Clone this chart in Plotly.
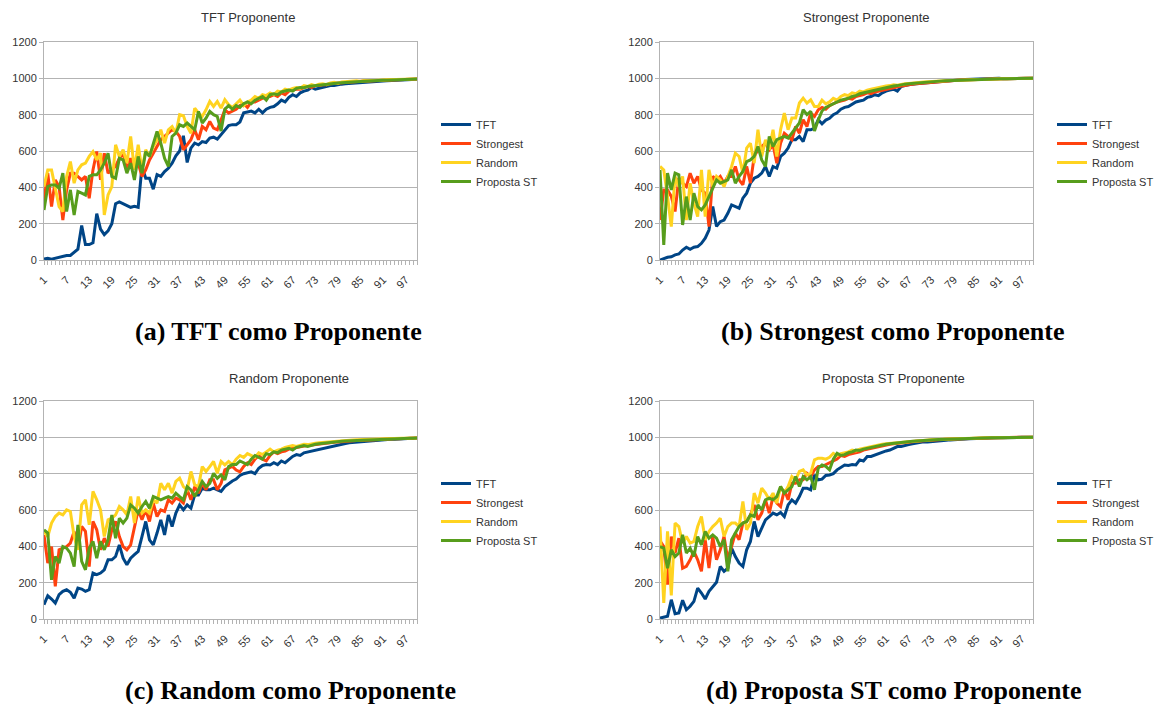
import plotly.graph_objects as go

# ---------------- data ----------------
ROUNDS = list(range(1, 101))
XTICK_LABELS = [1, 7, 13, 19, 25, 31, 37, 43, 49, 55, 61, 67, 73, 79, 85, 91, 97]
SERIES_NAMES = ["TFT", "Strongest", "Random", "Proposta ST"]
PANEL_TITLES = ["TFT Proponente", "Strongest Proponente", "Random Proponente", "Proposta ST Proponente"]
CAPTIONS = ["(a) TFT como Proponente", "(b) Strongest como Proponente",
            "(c) Random como Proponente", "(d) Proposta ST como Proponente"]

# (a) TFT Proponente
a_tft = [5, 10, 5, 10, 15, 20, 25, 25, 45, 60,
         190, 85, 85, 95, 255, 170, 140, 160, 200, 310,
         320, 310, 300, 290, 295, 290, 515, 450, 450, 390,
         470, 460, 487, 505, 533, 573, 600, 684, 537, 616,
         643, 634, 652, 647, 671, 676, 665, 690, 720, 740,
         745, 745, 760, 810, 815, 820, 810, 830, 810, 830,
         840, 845, 860, 880, 870, 895, 910, 900, 920, 930,
         935, 950, 940, 945, 950, 955, 960, 960, 965, 968,
         970, 972, 974, 976, 978, 980, 981, 982, 984, 985,
         986, 987, 988, 989, 990, 991, 992, 993, 994, 995]
a_str = [330, 478, 294, 441, 404, 220, 386, 478, 478, 460,
         441, 460, 340, 496, 597, 441, 588, 478, 496, 515,
         560, 588, 496, 560, 515, 533, 460, 496, 551, 588,
         625, 662, 680, 698, 717, 708, 680, 607, 634, 662,
         717, 662, 735, 717, 763, 726, 717, 772, 827, 809,
         820, 830, 850, 860, 840, 870, 870, 880, 890, 900,
         900, 910, 900, 920, 910, 930, 935, 940, 940, 950,
         955, 950, 960, 960, 965, 965, 970, 972, 970, 975,
         978, 978, 980, 982, 983, 985, 985, 986, 988, 988,
         990, 990, 991, 992, 992, 993, 994, 994, 995, 996]
a_rnd = [404, 496, 496, 386, 294, 267, 460, 542, 423, 496,
         524, 533, 570, 597, 551, 588, 248, 358, 404, 634,
         570, 607, 533, 680, 496, 634, 496, 607, 570, 625,
         662, 717, 643, 717, 735, 698, 800, 794, 735, 698,
         836, 809, 790, 827, 873, 845, 873, 836, 882, 855,
         840, 860, 880, 850, 870, 880, 900, 890, 910, 905,
         920, 910, 930, 925, 940, 935, 945, 950, 945, 960,
         955, 965, 960, 968, 970, 965, 975, 978, 972, 980,
         982, 980, 984, 986, 983, 988, 987, 989, 990, 989,
         991, 992, 993, 992, 994, 994, 995, 995, 996, 996]
a_pst = [275, 404, 413, 413, 395, 478, 267, 386, 248, 377,
         368, 358, 460, 469, 469, 496, 533, 588, 460, 450,
         560, 551, 478, 533, 441, 570, 478, 597, 570, 643,
         708, 643, 560, 515, 680, 698, 744, 735, 754, 735,
         717, 818, 754, 781, 818, 800, 790, 710, 830, 850,
         830, 850, 840, 860, 870, 860, 880, 890, 900, 880,
         910, 915, 910, 925, 930, 935, 930, 945, 950, 948,
         955, 958, 960, 962, 965, 968, 970, 972, 974, 976,
         978, 979, 980, 982, 983, 984, 986, 987, 988, 989,
         990, 990, 991, 992, 993, 993, 994, 995, 995, 996]

# (b) Strongest Proponente
b_tft = [0, 9, 15, 18, 28, 33, 55, 70, 59, 70,
         74, 92, 120, 165, 295, 185, 211, 220, 257, 303,
         294, 285, 340, 368, 423, 450, 460, 478, 515, 460,
         515, 505, 570, 588, 616, 662, 662, 680, 652, 717,
         717, 726, 772, 750, 770, 780, 800, 810, 830, 840,
         845, 860, 870, 875, 880, 895, 900, 910, 905, 920,
         930, 935, 940, 930, 955, 960, 965, 968, 970, 972,
         975, 978, 980, 982, 984, 986, 988, 989, 990, 991,
         992, 993, 994, 994, 995, 996, 996, 997, 997, 998,
         1000, 998, 998, 999, 999, 999, 999, 1000, 1000, 1000]
b_str = [220, 386, 386, 350, 267, 450, 423, 404, 478, 423,
         460, 386, 368, 184, 460, 441, 460, 423, 460, 460,
         515, 441, 414, 515, 423, 570, 607, 625, 643, 607,
         634, 533, 643, 698, 680, 662, 735, 698, 772, 735,
         809, 790, 827, 840, 830, 850, 860, 870, 875, 880,
         890, 885, 900, 905, 910, 920, 915, 925, 930, 935,
         940, 945, 950, 955, 958, 960, 965, 968, 970, 972,
         975, 978, 980, 982, 984, 985, 986, 988, 989, 990,
         991, 992, 993, 994, 994, 995, 996, 996, 997, 997,
         998, 998, 998, 999, 999, 999, 1000, 1000, 1000, 1000]
b_rnd = [515, 496, 350, 184, 460, 404, 460, 220, 423, 312,
         239, 496, 239, 496, 404, 460, 441, 404, 460, 515,
         588, 570, 478, 616, 643, 533, 717, 570, 662, 607,
         717, 570, 717, 809, 717, 781, 781, 864, 891, 864,
         882, 845, 845, 880, 860, 870, 890, 880, 900, 910,
         905, 920, 915, 930, 925, 935, 940, 945, 950, 955,
         958, 960, 965, 962, 968, 970, 972, 975, 976, 978,
         980, 981, 983, 984, 985, 986, 987, 988, 989, 990,
         991, 992, 992, 993, 994, 994, 995, 996, 996, 997,
         997, 998, 998, 998, 999, 999, 999, 1000, 1000, 1000]
b_pst = [496, 83, 478, 386, 478, 469, 193, 349, 220, 368,
         294, 276, 303, 349, 404, 441, 423, 432, 441, 496,
         423, 460, 487, 542, 551, 570, 625, 551, 515, 680,
         625, 662, 671, 680, 671, 698, 726, 754, 827, 800,
         818, 710, 770, 820, 840, 850, 860, 870, 880, 885,
         890, 900, 905, 915, 920, 925, 930, 935, 940, 945,
         950, 955, 958, 960, 965, 968, 970, 972, 975, 978,
         980, 981, 983, 984, 985, 986, 987, 988, 989, 990,
         991, 992, 992, 993, 994, 994, 995, 996, 996, 997,
         997, 998, 998, 998, 999, 999, 999, 1000, 1000, 1000]

# (c) Random Proponente
c_tft = [79, 128, 110, 88, 134, 152, 161, 147, 115, 170,
         165, 152, 161, 253, 244, 253, 271, 326, 326, 344,
         408, 335, 299, 335, 354, 372, 454, 537, 436, 408,
         473, 546, 463, 573, 509, 583, 628, 601, 628, 610,
         683, 683, 720, 711, 711, 720, 711, 702, 729, 747,
         760, 770, 790, 800, 805, 810, 800, 830, 845, 850,
         848, 860, 850, 870, 860, 880, 895, 905, 900, 915,
         920, 925, 930, 935, 940, 945, 950, 955, 960, 962,
         966, 970, 972, 975, 976, 978, 980, 982, 984, 985,
         986, 988, 989, 990, 991, 992, 993, 994, 995, 996]
c_str = [463, 308, 399, 180, 381, 390, 399, 418, 482, 381,
         509, 482, 289, 537, 491, 381, 445, 399, 491, 537,
         454, 399, 381, 408, 509, 601, 546, 601, 537, 638,
         564, 601, 592, 656, 638, 665, 656, 638, 711, 656,
         729, 693, 747, 711, 766, 766, 711, 747, 821, 830,
         840, 820, 810, 840, 860, 850, 880, 900, 880, 870,
         900, 920, 910, 920, 925, 935, 940, 945, 950, 952,
         955, 958, 960, 962, 965, 968, 970, 973, 975, 977,
         978, 980, 981, 982, 983, 985, 985, 986, 987, 988,
         990, 990, 991, 992, 992, 993, 994, 994, 995, 996]
c_rnd = [482, 454, 528, 564, 583, 573, 601, 592, 454, 381,
         628, 656, 518, 702, 656, 601, 454, 546, 555, 573,
         619, 601, 573, 674, 528, 674, 583, 601, 583, 656,
         638, 747, 711, 747, 693, 757, 775, 729, 711, 812,
         738, 729, 839, 812, 839, 867, 802, 867, 848, 867,
         850, 880, 900, 890, 910, 900, 890, 915, 905, 920,
         935, 920, 930, 935, 945, 950, 955, 950, 958, 962,
         960, 965, 968, 970, 972, 975, 978, 980, 981, 983,
         984, 986, 986, 987, 988, 989, 990, 990, 991, 991,
         992, 993, 993, 994, 994, 995, 995, 996, 996, 997]
c_pst = [491, 473, 216, 344, 308, 399, 390, 363, 289, 518,
         317, 271, 390, 427, 335, 427, 381, 436, 573, 445,
         555, 528, 555, 628, 610, 583, 619, 647, 610, 674,
         665, 656, 665, 674, 665, 693, 674, 656, 729, 711,
         674, 711, 757, 729, 747, 802, 775, 793, 766, 839,
         850, 850, 870, 860, 850, 880, 900, 890, 880, 910,
         905, 920, 915, 930, 935, 940, 930, 945, 950, 955,
         950, 958, 962, 965, 968, 970, 972, 975, 977, 979,
         980, 981, 983, 984, 985, 986, 987, 988, 989, 990,
         990, 991, 992, 993, 993, 994, 994, 995, 995, 996]

# (d) Proposta ST Proponente
d_tft = [5, 11, 15, 106, 29, 33, 103, 51, 70, 97,
         170, 143, 110, 152, 180, 202, 289, 262, 280, 390,
         344, 308, 289, 381, 427, 537, 454, 500, 546, 564,
         583, 573, 586, 564, 628, 656, 638, 674, 720, 720,
         711, 793, 766, 770, 790, 793, 800, 821, 835, 848,
         845, 850, 848, 876, 870, 894, 895, 903, 910, 915,
         925, 930, 940, 949, 950, 953, 960, 965, 970, 972,
         976, 975, 976, 978, 980, 982, 984, 986, 988, 989,
         990, 991, 992, 993, 995, 996, 996, 997, 997, 998,
         998, 998, 999, 999, 999, 999, 1000, 1000, 1000, 1000]
d_str = [430, 399, 189, 454, 363, 445, 280, 290, 326, 372,
         326, 262, 436, 280, 454, 326, 381, 454, 326, 399,
         473, 436, 528, 537, 573, 628, 546, 583, 656, 583,
         674, 638, 619, 711, 656, 747, 747, 766, 766, 802,
         784, 821, 839, 839, 850, 860, 870, 880, 900, 895,
         905, 910, 915, 920, 930, 935, 938, 945, 950, 955,
         958, 962, 965, 968, 970, 972, 975, 976, 978, 980,
         982, 983, 984, 986, 987, 988, 989, 990, 991, 992,
         993, 994, 994, 995, 996, 996, 997, 997, 998, 998,
         998, 999, 999, 999, 999, 1000, 1000, 1000, 1000, 1000]
d_rnd = [509, 88, 482, 130, 528, 509, 418, 454, 418, 427,
         509, 564, 436, 482, 509, 528, 555, 454, 509, 528,
         528, 509, 647, 491, 528, 693, 638, 720, 693, 656,
         693, 638, 729, 693, 729, 784, 766, 812, 821, 793,
         802, 876, 885, 885, 880, 890, 912, 900, 910, 915,
         920, 930, 925, 935, 940, 945, 950, 955, 958, 962,
         965, 967, 970, 972, 975, 976, 978, 980, 982, 983,
         985, 986, 987, 988, 989, 990, 991, 992, 993, 994,
         994, 995, 995, 996, 996, 997, 997, 998, 998, 998,
         999, 999, 999, 999, 1000, 1000, 1000, 1000, 1000, 1000]
d_pst = [399, 390, 280, 381, 344, 363, 463, 363, 390, 344,
         454, 408, 482, 445, 463, 445, 399, 436, 262, 436,
         473, 509, 528, 537, 573, 564, 628, 601, 656, 665,
         656, 674, 729, 693, 711, 729, 784, 729, 784, 766,
         784, 711, 830, 848, 840, 821, 880, 912, 900, 905,
         915, 920, 930, 928, 935, 940, 945, 950, 955, 958,
         962, 965, 968, 970, 972, 975, 977, 979, 980, 982,
         984, 985, 986, 987, 988, 989, 990, 991, 992, 993,
         994, 994, 995, 995, 996, 996, 997, 997, 998, 998,
         998, 999, 999, 999, 1000, 1000, 1000, 1000, 1000, 1000]

PANELS = [
    [a_tft, a_str, a_rnd, a_pst],
    [b_tft, b_str, b_rnd, b_pst],
    [c_tft, c_str, c_rnd, c_pst],
    [d_tft, d_str, d_rnd, d_pst],
]

# ---------------- style / layout ----------------
W, H = 1162, 704
COLORS = ["#004586", "#ff420e", "#ffd320", "#579d1c"]
GRID = "#b3b3b3"
TXT = "#333333"
FONT = "Liberation Sans"

# plot-area pixel boxes: (left, right, top, bottom)
BOXES = [(44, 417, 42, 260), (660, 1033, 42, 260), (44, 417, 401, 619), (660, 1033, 401, 619)]
LEGEND_POS = [(436, 110), (1052, 110), (436, 469), (1052, 469)]
TITLE_POS = [(248, 18), (866, 18), (289, 378), (893, 378)]
CAPTION_POS = [(278, 331), (893, 331), (290, 690), (894, 690)]

fig = go.Figure()
layout = dict(width=W, height=H, margin=dict(l=0, r=0, t=0, b=0),
              paper_bgcolor="white", plot_bgcolor="white",
              font=dict(family=FONT, color=TXT, size=11),
              annotations=[])

for p, series in enumerate(PANELS):
    k = "" if p == 0 else str(p + 1)
    leg = "legend" if p == 0 else f"legend{p + 1}"
    for s, vals in enumerate(series):
        fig.add_trace(go.Scatter(x=ROUNDS, y=vals, mode="lines", name=SERIES_NAMES[s],
                                 line=dict(color=COLORS[s], width=3),
                                 xaxis="x" + k, yaxis="y" + k, legend=leg,
                                 hoverinfo="skip"))
    l, r, t, b = BOXES[p]
    layout["xaxis" + k] = dict(
        domain=[l / W, r / W], anchor="y" + k, range=[1, 100], automargin=False,
        tickmode="array", tickvals=XTICK_LABELS, ticktext=[str(v) for v in XTICK_LABELS],
        tickangle=-45, ticks="outside", ticklen=4, tickcolor=GRID,
        ticklabelstandoff=4,
        tickfont=dict(size=11, color=TXT),
        minor=dict(tickmode="linear", tick0=1, dtick=1, ticks="outside", ticklen=4,
                   tickcolor=GRID, showgrid=False),
        showgrid=False, zeroline=False, showline=True, linecolor=GRID, linewidth=1,
        mirror=True, fixedrange=True)
    layout["yaxis" + k] = dict(
        domain=[1 - b / H, 1 - t / H], anchor="x" + k, range=[0, 1200], automargin=False,
        tickmode="linear", tick0=0, dtick=200, ticks="outside", ticklen=4, tickcolor=GRID,
        tickfont=dict(size=11, color=TXT),
        showgrid=True, gridcolor=GRID, gridwidth=1, zeroline=False,
        showline=True, linecolor=GRID, linewidth=1, mirror=True, fixedrange=True)
    lx, ly = LEGEND_POS[p]
    layout[leg] = dict(x=lx / W, y=1 - ly / H, xanchor="left", yanchor="top",
                       bgcolor="rgba(0,0,0,0)", borderwidth=0,
                       font=dict(size=11, color=TXT, family=FONT),
                       tracegroupgap=0, itemwidth=30)
    tx, ty = TITLE_POS[p]
    layout["annotations"].append(dict(text=PANEL_TITLES[p], x=tx / W, y=1 - ty / H,
                                      xref="paper", yref="paper", showarrow=False,
                                      xanchor="center", yanchor="middle",
                                      font=dict(size=13, color=TXT, family=FONT)))
    cx, cy = CAPTION_POS[p]
    layout["annotations"].append(dict(text="<b>" + CAPTIONS[p] + "</b>", x=cx / W, y=1 - cy / H,
                                      xref="paper", yref="paper", showarrow=False,
                                      xanchor="center", yanchor="middle",
                                      font=dict(size=26, color="black", family="Liberation Serif")))

fig.update_layout(**layout)
fig.write_html("out.html", config={"displayModeBar": False},
               post_script="document.body.style.margin='0';document.body.style.overflow='hidden';")
